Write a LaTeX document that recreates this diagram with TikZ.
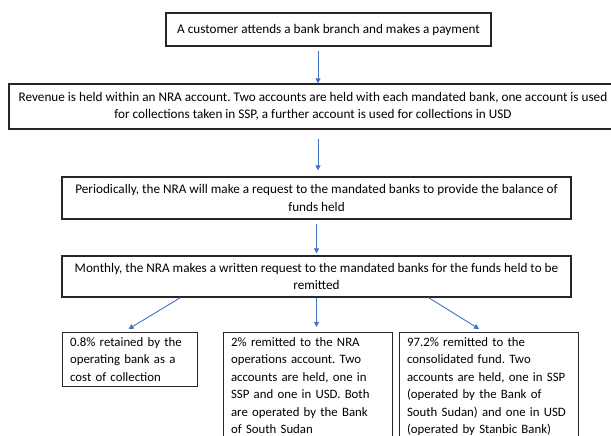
\documentclass[tikz,border=0pt]{standalone}
\usepackage{fontspec}
\setmainfont{Carlito}
\usetikzlibrary{arrows.meta}
\definecolor{arrowblue}{HTML}{4472C4}
\frenchspacing

\begin{document}
\begin{tikzpicture}[x=1pt,y=-1pt,
        box/.style={draw=black!85,line width=1.2pt,inner sep=0pt,align=center,font=\fontsize{13.2}{17.5}\selectfont},
        leaf/.style={draw=black!85,line width=1.2pt,anchor=north west,align=left,inner xsep=7.5pt,inner ysep=5pt,font=\fontsize{12.8}{17.5}\selectfont},
        flow/.style={draw=arrowblue,line width=0.9pt,-{Triangle[length=5pt,width=5pt]}}]
            \fill[white] (0,0) rectangle (611,436);
            \clip (0,0) rectangle (611,436);

            \node[box,minimum width=325pt,minimum height=33pt] (cust) at (328.5,29.5) {A customer attends a bank branch and makes a payment};
            \node[box,minimum width=608pt,minimum height=45pt] (rev) at (313,106.5) {Revenue is held within an NRA account. Two accounts are held with each mandated bank, one account is used\\ for collections taken in SSP, a further account is used for collections in USD};
            \node[box,minimum width=509pt,minimum height=42pt] (ask) at (316.5,198) {Periodically, the NRA will make a request to the mandated banks to provide the balance of\\ funds held};
            \node[box,minimum width=509pt,minimum height=41pt] (month) at (316.5,276.5) {Monthly, the NRA makes a written request to the mandated banks for the funds held to be\\ remitted};

            \node[leaf,text width=120pt] (keep) at (62,332) {0.8\% retained by the\\ operating bank as a\\ cost of collection};
            \node[leaf,text width=154pt] (ops) at (223,332) {2\% remitted to the NRA\\ operations account. Two\\ accounts are held, one in\\ SSP and one in USD. Both\\ are operated by the Bank\\ of South Sudan};
            \node[leaf,text width=164pt] (fund) at (399,332) {97.2\% remitted to the\\ consolidated fund. Two\\ accounts are held, one in SSP\\ (operated by the Bank of\\ South Sudan) and one in USD\\ (operated by Stanbic Bank)};

            \coordinate (spine) at (318,0);
            \draw[flow,shorten <=4pt] (cust.south -| spine) -- (rev.north -| spine);
            \draw[flow,shorten <=9pt,shorten >=6pt] (rev.south -| spine) -- (ask.north -| spine);
            \draw[flow,shorten <=4pt,shorten >=2pt] (ask.south -| month.north) -- (month.north);

            \draw[flow] ([xshift=-136pt]month.south) -- ([xshift=-1.5pt,yshift=3pt]keep.north);
            \draw[flow,shorten >=5pt] (month.south) -- (month.south |- ops.north);
            \draw[flow] ([xshift=112pt]month.south) -- ([xshift=-10pt,yshift=3pt]fund.north);
        \end{tikzpicture}
\end{document}
